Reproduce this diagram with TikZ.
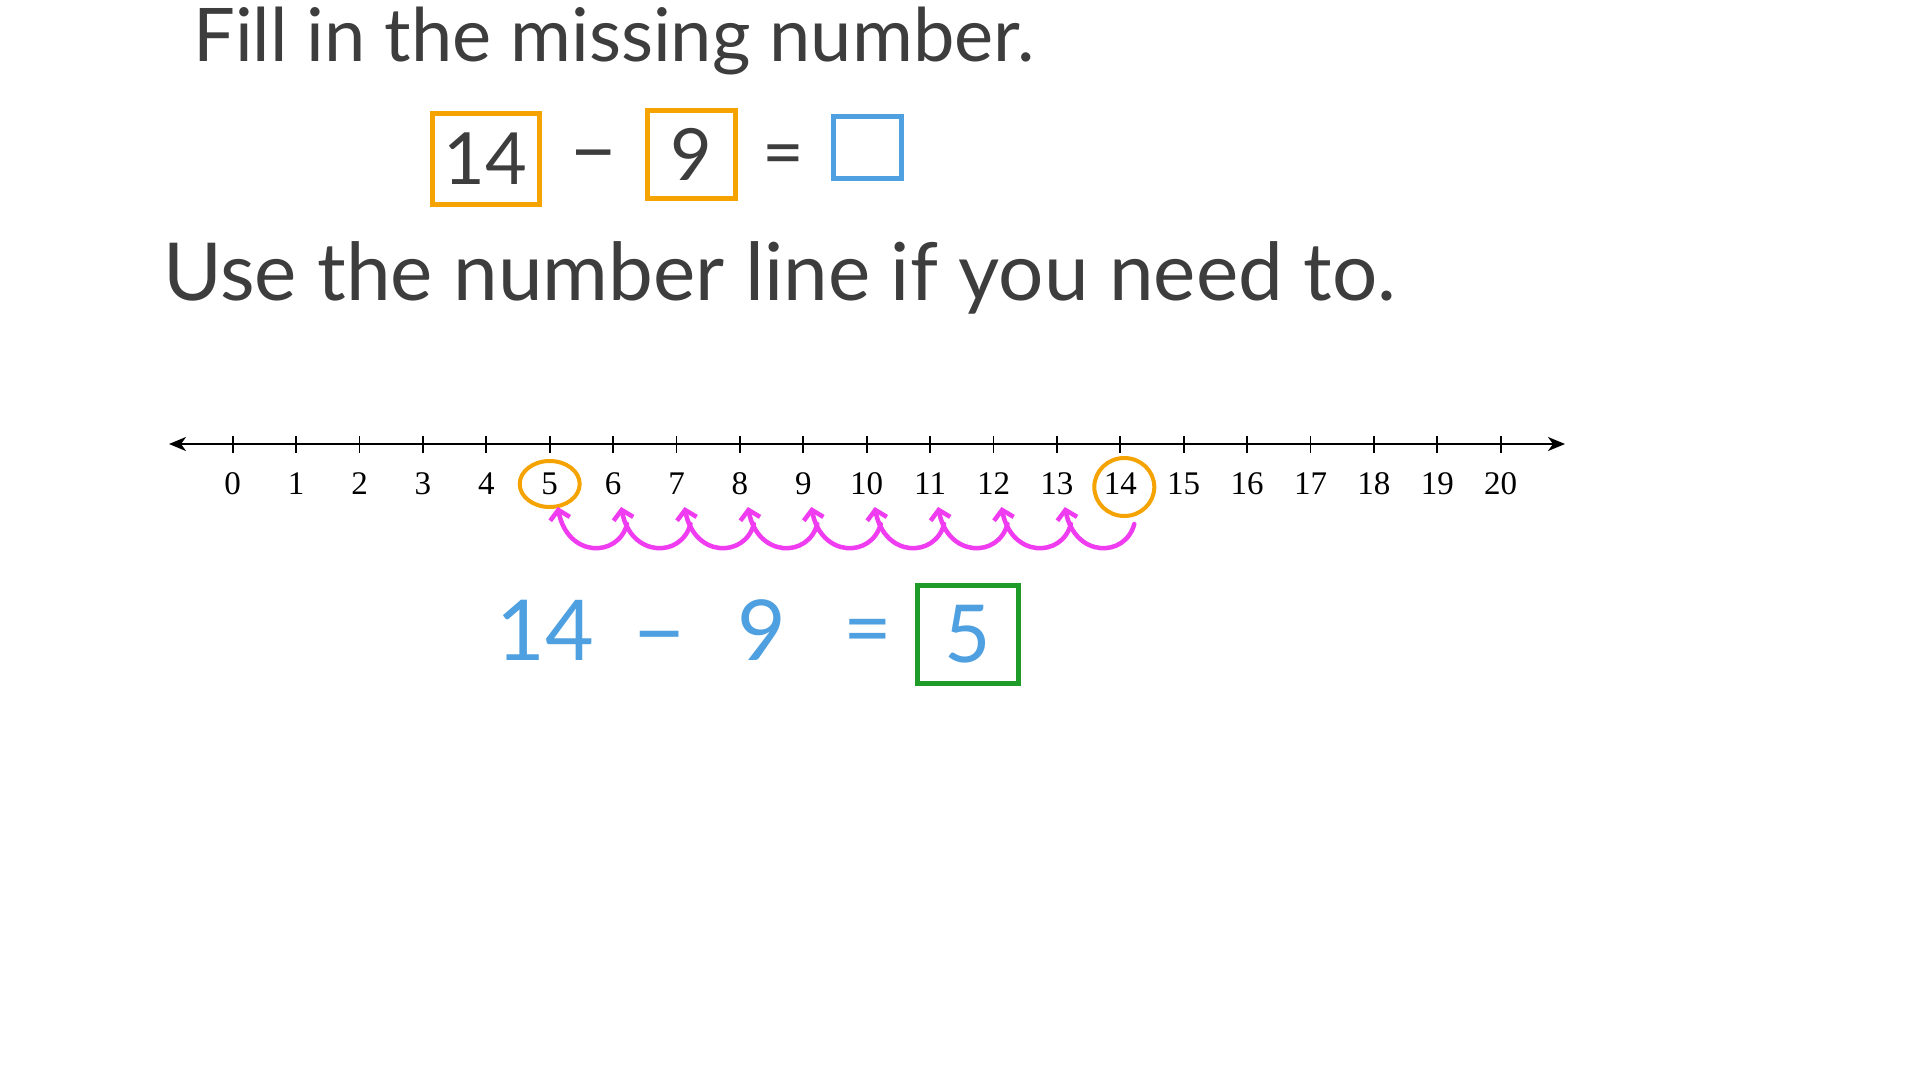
\documentclass[tikz,border=0pt]{standalone}
\usepackage{fontspec}
\setmainfont{Liberation Serif}
\newfontfamily\handfont{Lato}
\usepackage{xcolor}
\usepackage{tikz}
\usetikzlibrary{arrows.meta}

\definecolor{penink}{HTML}{3D3D3D}
\definecolor{penorange}{HTML}{F4A300}
\definecolor{penblue}{HTML}{4FA0E0}
\definecolor{pengreen}{HTML}{1E9B28}
\definecolor{penpink}{HTML}{F03CF0}

\begin{document}
\begin{tikzpicture}[x=1pt, y=-1pt,
	hand/.style={font=\handfont\fontsize{#1}{#1}\selectfont, text=penink, inner sep=0pt},
	penbox/.style={rectangle, draw=#1, line width=5pt, inner sep=0pt},
	numlabel/.style={font=\fontsize{33}{33}\selectfont, inner sep=0pt},
	tickmark/.style={line width=1.8pt},
	hop/.style={draw=penpink, line width=4.5pt, line cap=round, -{Straight Barb[length=9pt, width=20pt]}}]
	\fill[white] (0,0) rectangle (1920,1080);
	\useasboundingbox (0,0) rectangle (1920,1080);
	% question text
	\node[hand=74, anchor=base west] at (193,61)(title){Fill in the missing number.};
	\node[hand=80, anchor=base west] at (163,300)(hint){Use the number line if you need to.};
	% the sum with boxes
	\node[penbox=penorange, minimum width=107pt, minimum height=91pt, hand=72] at (485.5,158.5)(boxa){14};
	\node[hand=80] at (594,165)(minusa){−};
	\node[penbox=penorange, minimum width=88pt, minimum height=88pt, hand=72] at (691,154)(boxb){9};
	\node[hand=72] at (783,161)(equala){=};
	\node[penbox=penblue, minimum width=68pt, minimum height=62pt] at (867,147)(boxc){};
	% number line
	\coordinate (la) at (169,444);
	\coordinate (ra) at (1565,444);
	\draw[line width=2pt, {Stealth[length=17pt, width=14pt, inset=5pt]}-{Stealth[length=17pt, width=14pt, inset=5pt]}] (la) -- (ra);
	\foreach \n in {0,...,20}{
		\draw[tickmark] (232.7+63.4*\n,436) -- (232.7+63.4*\n,453);
		\node[numlabel] at (232.7+63.4*\n,484)(l\n){\n};
		\coordinate (hs\n) at (232.7+63.4*\n+14,524);
		\coordinate (he\n) at (232.7+63.4*\n+8,507);
	}
	\draw[penorange, line width=4pt] (l5) ellipse [x radius=30pt, y radius=23pt];
	\draw[penorange, line width=4pt] ([xshift=4pt, yshift=-3pt]l14.center) ellipse [x radius=30pt, y radius=29pt];
	% jumps back from 14 to 5
	\foreach \n in {14,...,6}{
		\pgfmathtruncatemacro{\m}{\n-1}
		\draw[hop] (hs\n) .. controls +(-9,34) and +(10,51) .. (he\m);
	}
	% worked answer
	\node[hand=84, text=penblue] at (545,630)(ansa){14};
	\node[hand=90, text=penblue] at (660,648)(ansminus){−};
	\node[hand=84, text=penblue] at (762,630)(ansb){9};
	\node[hand=84, text=penblue] at (868,638)(ansequal){=};
	\node[penbox=pengreen, minimum width=101pt, minimum height=98pt, hand=80, text=penblue] at (968,634)(ansbox){5};
\end{tikzpicture}
\end{document}
